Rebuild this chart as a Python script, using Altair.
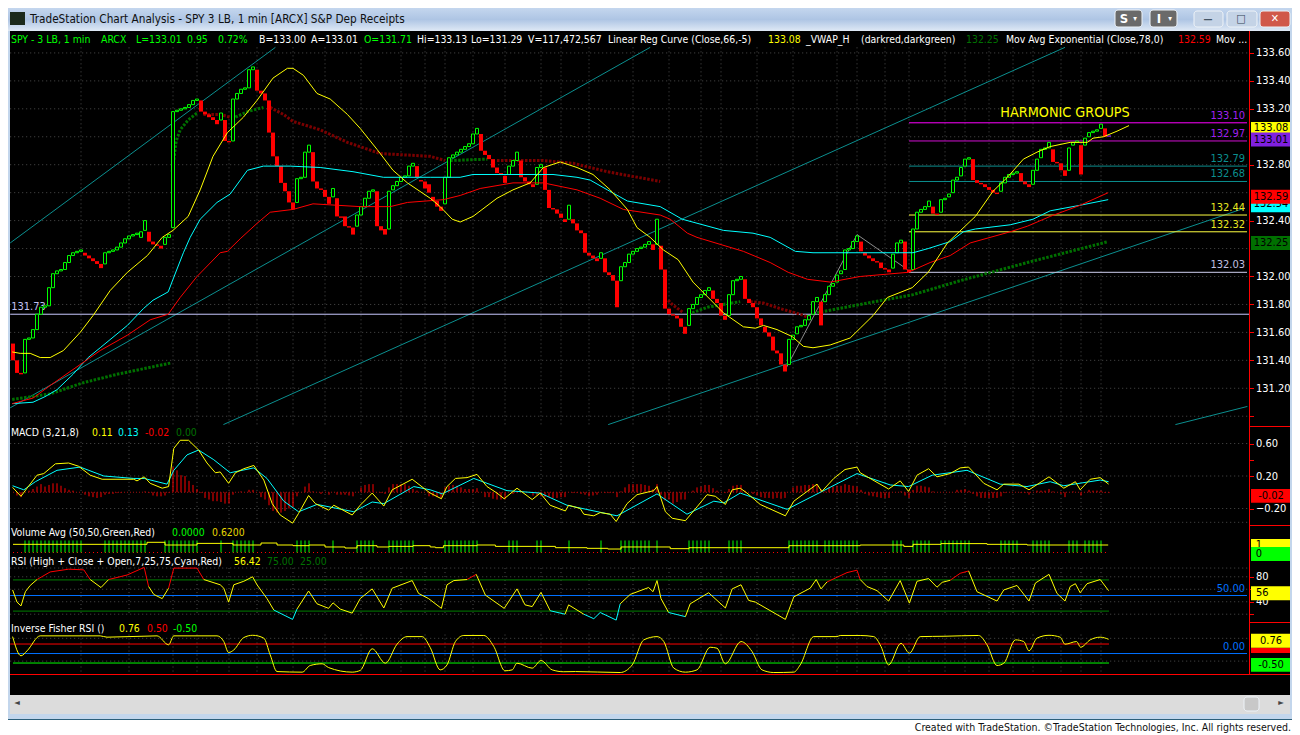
import altair as alt
import pandas as pd

FONT = "DejaVu Sans Condensed"
FS = 11
HS = 10.4

# ---------- three line break bricks (bar 0..274) ----------
brick_low = [
131.40,131.31,131.30,131.31,131.55,131.56,131.62,131.73,131.78,131.79,
131.92,132.02,132.04,132.05,132.10,132.15,132.17,132.18,132.15,132.13,
132.11,132.09,132.06,132.09,132.17,132.18,132.19,132.21,132.24,132.27,
132.29,132.30,132.28,132.33,132.25,132.23,132.22,132.20,132.23,132.28,
132.35,133.18,133.19,133.20,133.21,133.23,133.26,133.18,133.16,133.14,
133.12,133.09,133.12,132.97,132.96,132.97,133.27,133.31,133.34,133.35,
133.48,133.33,133.31,133.26,133.03,132.86,132.79,132.67,132.61,132.53,
132.48,132.53,132.70,132.71,132.89,132.68,132.63,132.62,132.57,132.52,
132.57,132.43,132.42,132.36,132.35,132.30,132.36,132.44,132.50,132.56,
132.61,132.36,132.33,132.30,132.34,132.62,132.65,132.68,132.71,132.72,
132.79,132.71,132.68,132.63,132.60,132.54,132.50,132.47,132.52,132.71,
132.85,132.87,132.89,132.91,132.93,132.95,133.02,132.90,132.87,132.84,
132.78,132.74,132.73,132.67,132.73,132.79,132.83,132.71,132.68,132.66,
132.64,132.66,132.78,132.62,132.49,132.48,132.45,132.42,132.39,132.41,
132.38,132.33,132.31,132.17,132.15,132.13,132.11,132.13,132.03,132.01,
131.97,131.78,131.97,132.07,132.10,132.16,132.18,132.20,132.21,132.23,
132.19,132.23,132.05,131.77,131.73,131.72,131.70,131.64,131.59,131.65,
131.77,131.80,131.85,131.87,131.90,131.84,131.81,131.72,131.69,131.72,
131.87,131.97,131.98,131.84,131.81,131.78,131.70,131.65,131.60,131.57,
131.47,131.45,131.37,131.32,131.37,131.55,131.59,131.64,131.65,131.69,
131.73,131.82,131.65,131.82,131.87,131.93,131.96,132.02,132.05,132.19,
132.20,132.25,132.18,132.15,132.13,132.11,132.10,132.06,132.05,132.03,
132.06,132.17,132.24,132.05,132.03,132.05,132.34,132.46,132.48,132.50,
132.45,132.44,132.46,132.55,132.57,132.60,132.69,132.72,132.79,132.84,
132.69,132.67,132.66,132.64,132.62,132.60,132.59,132.61,132.67,132.71,
132.73,132.74,132.68,132.66,132.64,132.66,132.76,132.85,132.91,132.92,
132.82,132.81,132.76,132.72,132.76,132.94,132.96,132.73,132.94,133.00,
133.03,133.04,133.06,133.00,133.00]
brick_high = [
131.52,131.40,131.31,131.55,131.56,131.62,131.73,131.78,131.79,131.92,
132.02,132.04,132.05,132.10,132.15,132.17,132.18,132.19,132.17,132.15,
132.13,132.11,132.09,132.17,132.18,132.19,132.21,132.24,132.27,132.29,
132.30,132.31,132.32,132.40,132.32,132.25,132.23,132.22,132.28,132.30,
133.18,133.19,133.20,133.21,133.23,133.26,133.27,133.26,133.18,133.16,
133.14,133.12,133.17,133.12,132.97,133.27,133.31,133.34,133.35,133.48,
133.50,133.48,133.33,133.31,133.26,133.03,132.86,132.79,132.67,132.61,
132.53,132.70,132.71,132.89,132.94,132.89,132.68,132.63,132.62,132.57,
132.63,132.56,132.43,132.43,132.36,132.35,132.44,132.50,132.56,132.61,
132.62,132.61,132.36,132.34,132.61,132.65,132.68,132.71,132.72,132.79,
132.81,132.79,132.69,132.68,132.66,132.57,132.54,132.50,132.71,132.85,
132.87,132.89,132.91,132.93,132.95,133.02,133.06,133.02,132.90,132.87,
132.84,132.78,132.74,132.72,132.79,132.83,132.89,132.83,132.71,132.68,
132.66,132.78,132.80,132.78,132.62,132.49,132.48,132.45,132.41,132.51,
132.41,132.38,132.33,132.31,132.17,132.15,132.13,132.17,132.13,132.03,
132.01,131.97,132.07,132.10,132.16,132.18,132.20,132.21,132.23,132.25,
132.23,132.41,132.22,132.05,131.77,131.73,131.72,131.70,131.64,131.77,
131.80,131.85,131.87,131.90,131.92,131.90,131.84,131.81,131.72,131.87,
131.97,131.98,132.00,131.98,131.84,131.81,131.78,131.70,131.64,131.60,
131.57,131.47,131.45,131.37,131.55,131.58,131.64,131.65,131.69,131.72,
131.82,131.85,131.82,131.87,131.93,131.95,132.01,132.04,132.19,132.20,
132.25,132.29,132.25,132.17,132.15,132.13,132.11,132.10,132.06,132.05,
132.16,132.24,132.26,132.25,132.05,132.34,132.46,132.48,132.50,132.54,
132.50,132.45,132.55,132.56,132.59,132.69,132.71,132.78,132.84,132.85,
132.84,132.69,132.67,132.66,132.64,132.62,132.60,132.67,132.71,132.73,
132.74,132.75,132.74,132.68,132.66,132.76,132.84,132.91,132.92,132.96,
132.91,132.82,132.81,132.76,132.92,132.96,132.97,132.94,132.99,133.03,
133.04,133.05,133.09,133.06,133.01]
brick_dir = (
"RRRGGGGGGG" "GGGGGGGGRR" "RRRGGGGGGG" "GGGGRRRRGG" "GGGGGGGRRR"
"RRGRRGGGGG" "GRRRRRRRRR" "RGGGGRRRRR" "GRRRRRGGGG" "GRRRGGGGGG"
"GRRRRRRRGG" "GGGGGGGRRR" "RRRRGGGRRR" "RGGRRRRRRG" "RRRRRRRGRR"
"RRGGGGGGGG" "RGRRRRRRRG" "GGGGGRRRRG" "GGGRRRRRRR" "RRRRGGGGGG"
"GGRGGGGGGG" "GGRRRRRRRR" "GGGRRGGGGG" "RRGGGGGGGG" "RRRRRRRGGG"
"GGRRRGGGGG" "RRRRGGGRGG" "GGGRP")

# ---------- price lines: (bar, price) ----------
linreg_k = [-0.2,1.8,4.3,6.8,9.3,12.6,16.8,20,24.3,28.6,33.6,37.3,40,43.8,46.8,50,53.6,57.6,61,65,68.6,70,72.6,76,79.3,83.6,86.8,91,95,98.6,104.3,106.8,109.8,111.8,115,121,125,129.3,132.6,136.8,141,145,149.3,153.6,156,159.3,162.6,166.3,170,177.6,182.6,185.6,187.6,191,194.8,197.6,200,204.3,209.3,211.8,215,218.6,224.8,228.8,233.6,240.6,245,248.6,252.6,256,259.3,264.3,268.6,270,272.6,276,279]
linreg_v = [131.46,131.45,131.45,131.42,131.42,131.47,131.60,131.72,131.90,132.03,132.15,132.28,132.33,132.43,132.62,132.86,133.03,133.14,133.26,133.42,133.49,133.49,133.44,133.31,133.27,133.16,133.06,132.91,132.76,132.67,132.56,132.50,132.41,132.39,132.43,132.56,132.62,132.67,132.78,132.82,132.78,132.73,132.62,132.48,132.35,132.28,132.19,132.12,131.96,131.74,131.64,131.63,131.65,131.62,131.57,131.50,131.49,131.51,131.56,131.63,131.72,131.85,131.92,132.03,132.24,132.43,132.61,132.71,132.84,132.89,132.93,132.96,132.96,132.99,133.00,133.04,133.08]
ema_c_k = [-0.2,5,8,11,15,18.8,21.8,28.6,32.6,35,38.8,40,42.6,44.3,46.8,51,54.3,58.6,62.6,69.3,76.8,85,92.6,104.3,111.8,115,135,141,144.3,148.6,153.6,161.8,167.3,177.6,185,189.3,195.6,200,211.8,225,228.8,234.3,237.6,240.6,249.3,255,259.3,266.8,273.8]
ema_c_v = [131.09,131.10,131.14,131.19,131.30,131.42,131.49,131.65,131.77,131.83,131.89,131.98,132.17,132.28,132.41,132.53,132.59,132.76,132.79,132.79,132.78,132.75,132.71,132.71,132.71,132.73,132.73,132.71,132.69,132.62,132.54,132.50,132.41,132.33,132.31,132.28,132.18,132.17,132.17,132.17,132.20,132.25,132.32,132.34,132.37,132.41,132.47,132.51,132.55]
ema_r_k = [-0.2,5,9.3,16.8,21.8,28.6,34.3,38.8,41.8,46,51.8,53.6,56.8,61,64.3,70,75,86.8,94.3,98.6,107.6,111.8,116.8,125,132.6,141,146.8,152.6,161.8,164.3,168.6,171,182.6,189.3,193.8,198.6,204.3,211.8,223.8,229.3,234.3,239.3,249.3,253.6,259.3,266.8,273.8]
ema_r_v = [131.09,131.13,131.22,131.37,131.47,131.58,131.69,131.73,131.85,132.00,132.17,132.18,132.27,132.38,132.46,132.48,132.52,132.50,132.50,132.53,132.55,132.58,132.63,132.67,132.67,132.62,132.56,132.48,132.44,132.41,132.31,132.28,132.18,132.10,132.03,131.98,131.96,132.00,132.03,132.10,132.15,132.24,132.32,132.36,132.43,132.51,132.60]

# VWAP runs: colour flips between rising and falling stretches
vwap_green = [
    ([-0.2,9.3,17.6,26,39.3],[131.12,131.16,131.24,131.30,131.38]),
    ([39.8,40.8,41.8,43.8,46],[132.75,132.97,133.05,133.12,133.17]),
    ([55.6,58.6,62.6],[133.14,133.18,133.21]),
    ([109.3,118.6],[132.83,132.84]),
    ([162.8,163.2],[131.91,131.88]),
    ([169.8,173.6,177.6,181.8],[131.74,131.78,131.80,131.82]),
    ([201,211.8,225,236.8,253.6,273.8],[131.74,131.80,131.87,131.97,132.10,132.25]),
]
vwap_red = [
    ([47.6,51.8,54.3],[133.16,133.16,133.14]),
    ([64.3,67.6,70,76.8,83.6,91.8,104.3,108],[133.21,133.16,133.11,133.05,132.96,132.88,132.86,132.83]),
    ([121,132.6,140,148.6,161.8],[132.83,132.83,132.81,132.75,132.68]),
    ([163.8,164.8,167.6],[131.83,131.80,131.74]),
    ([184.3,187.6,191.8,196.8,198.6],[131.82,131.81,131.77,131.73,131.71]),
]
# trend channel lines: (bar, price, bar, price)
channels = [(-0.7,132.24,65.6,133.64),(-0.7,131.06,159.3,133.64),(52.6,130.94,263,133.64),
            (148.8,130.94,308,132.49),(290.6,130.94,308.6,131.07)]
gray_k = [193,211,223.6]
gray_v = [131.33,132.30,132.05]

level_vals = [133.10,132.97,132.79,132.68,132.44,132.32,132.03]
level_line = ["#ff00ff","#d010d0","#0b8f8f","#0b8f8f","#ffff40","#ffff40","#d0d0f0"]
level_text = ["#a020f0","#a020f0","#0b8f8f","#0b8f8f","#e8e820","#e8e820","#c0c0e0"]

# ---------- MACD ----------
macd_y_k = [-0.1,2,3.5,6,7.7,10.6,13.9,16.4,19.3,22.3,30.2,31,32.8,34.3,37.3,38.9,40.2,41.8,43.9,46.4,48.5,50.6,51.8,53.9,55.6,57.7,60.2,62.7,64.8,66.8,69.9,71.4,73.9,75.6,78.9,80.2,84.8,86.8,89.8,92.7,94.8,99.8,104.3,107.1,108.5,110.6,113.5,116,118.5,121,122.8,126,129.8,131.8,134.3,138.1,138.9,141.8,142.7,145.2,146.8,149.3,150.8,153.5,156,160.2,161,163.1,164.8,168.1,171,173.5,175.6,178.1,179.8,181.8,183.5,186.8,193.1,195.2,201,202.2,205.2,208,211,211.8,218.9,221.8,223.9,226,228.9,231,234.3,236.8,238.9,242.7,246,247.7,251.5,254,259,262.7,265.6,266.8,269.3,271.8,273.9]
macd_y_v = [.06,-.05,.05,.21,.23,.35,.36,.32,.21,.16,.16,.14,.19,.11,.05,.07,.54,.64,.64,.52,.36,.24,.25,.11,.24,.29,.33,.15,-.14,-.28,-.38,-.26,-.04,-.14,-.22,-.16,-.28,-.16,-.01,-.17,.03,.16,-.01,-.08,.07,.17,.18,.22,.07,-.01,-.08,.05,-.09,-.01,-.16,-.23,-.16,-.20,-.27,-.29,-.25,-.27,-.36,-.14,-.03,.02,.07,-.24,-.32,-.35,-.18,-.03,-.05,-.15,.03,.05,-.01,-.15,-.29,-.11,.10,.01,.17,.28,.31,.24,.04,.14,.01,.21,.29,.19,.23,.30,.31,.11,.03,.10,.10,.03,.19,.05,.13,.03,.16,.18,.10]
macd_c_k = [-0.1,2.7,5.6,11,16.8,22.7,30.2,32.8,38.5,40.2,43.5,46.4,50.2,54.3,60.2,63.5,67.7,71.4,76,85.2,89.8,92.7,100.2,104.3,107.3,115.2,123.5,131.8,138.5,151,161,168.5,175.2,177.7,181.8,193.5,211,219.3,223.9,229.8,238.5,246.8,253.5,259.3,262.7,271.8,273.9]
macd_c_v = [.08,.03,.13,.27,.31,.20,.17,.17,.10,.27,.46,.52,.40,.24,.30,.17,-.11,-.24,-.15,-.24,-.12,-.14,.07,.03,-.02,.17,.02,-.01,-.16,-.29,-.02,-.27,-.11,-.13,-.01,-.21,.23,.09,.07,.21,.27,.10,.07,.13,.08,.15,.13]
macd_hist = [
0,-4,-6,0,2,4,7,10,7,9, 11,11,8,5,3,2,0,0,-3,-5, -6,-7,-6,-3,-2,-2,-1,-1,0,0,
0,0,0,1,-1,-4,-5,-5,-4,-1, 31,27,21,20,14,9,4,-1,-7,-9, -11,-11,-12,-14,-14,-3,0,1,0,3,
3,0,-6,-9,-16,-23,-25,-25,-23,-20, -18,-5,0,7,11,1,0,-2,0,-3, 0,-3,-3,-3,-4,-5,0,6,9,10,
10,0,-1,-2,6,10,10,10,10,8, 4,2,0,0,-5,-5,-6,-7,6,8, 9,8,6,4,4,4,5,0,-6,-6,
-8,-9,-9,-9,0,-2,-1,0,0,0, -4,-4,-5,-6,-6,-7,-7,-6,-6,0, -1,-1,-2,-3,-5,-4,-3,0,-1,-1,
-1,-6,1,6,10,10,10,10,9,8, 4,10,-3,-10,-9,-14,-12,-9,-9,0, 2,6,7,9,9,5,2,0,-1,4,
8,9,9,2,0,-2,-4,-6,-7,-7, -8,-7,-8,-7,0,6,8,8,9,9, 10,10,4,1,6,7,8,8,10,9,
8,7,3,-2,-4,-5,-6,-7,-7,-7, 0,0,1,-4,-7,3,8,8,7,6, 1,0,0,0,0,0,3,3,4,2,
-2,-5,-7,-7,-7,-7,-7,-5,-1,0, 0,0,-1,-1,-3,0,2,2,2,4, 1,0,-2,-6,0,1,0,-4,0,3,
2,2,2,-1,-1]

# ---------- Volume ----------
vol_runs = [(3,17),(23,33),(38,46),(52,52),(55,60),(71,74),(80,80),(86,90),(94,100),(108,116),(124,126),(131,132),(139,139),(147,147),(152,159),(161,161),(169,174),(179,182),(194,201),(203,211),(220,222),(225,229),(232,239),(247,251),(255,259),(264,266),(268,272)]
vol_avg_k = [0,33.5,38,46,55,62,66,70,74,78,83,86,91,94,100,104.3,105.6,107.6,116,120.6,135.6,143.5,148.7,152,164.3,169,194,211.8,222.7,225,232,243.5,253.5,273.8]
vol_avg_v = [.68,.85,.625,.76,.625,.79,.625,.57,.625,.46,.375,.57,.46,.51,.57,.46,.40,.57,.625,.51,.40,.347,.29,.46,.32,.40,.57,.625,.51,.68,.74,.68,.625,.625]

# ---------- RSI ----------
rsi_k = [-0.1,1,2,3.1,4.3,6,9.3,13.9,17.7,19.3,22,23.9,28.5,32.8,33.9,35.2,37.3,38.9,40.2,46,47.7,51.8,52.7,53.9,55.2,57.7,59.9,61,63.5,65.2,69.9,71,73.9,76,78.9,80,81.8,84.8,86.8,89.8,92.7,94.8,99.8,101.4,103.9,107.1,108.5,110.2,113.5,115.8,118.1,122.8,126,128,129.8,132,134.3,138,138.9,142.7,145.2,146.8,150.8,151.8,154.3,158.9,160,161,162,163.9,168.1,169.3,173.9,178.1,179.8,182,183.9,185.6,193.1,195.2,199.3,200.8,202,203.5,208.5,211,211.8,213.5,216,218.9,221.8,224.1,226,228.9,231,232.3,234.3,236.8,238.9,241,246,247.7,251,254,255.6,259,261,263,264.3,265.6,266.8,268.5,271.8,273.9]
rsi_v = [58.9,39.4,33.3,56.1,66.1,75.6,87.8,92.2,91.1,75.6,62.8,75.6,82.8,95,64.4,51.7,45,61.7,93.9,93.9,75.6,67.2,61.7,39.4,67.2,72.8,80,67.2,45,26.7,11.7,28.3,57.2,36.7,29.4,38.3,28.3,21.7,45,60.6,30,61.7,73.9,53.3,45,29.4,67.2,73.9,75.6,83.9,50.6,29.4,60.6,35,32.2,55,25.6,20,35,20,12.8,22.8,10.6,36.7,51.7,62.8,56.1,73.9,45,22.8,16.1,36.7,54.4,30,60.6,67.2,42.2,39.4,11.7,47.8,61.7,75.6,60.6,71.7,86.7,90.6,75.6,64.4,57.8,41.1,73.9,37.8,72.8,77.2,63.3,71.1,74.4,85.6,89.4,56.1,41.1,58.9,66.1,41.1,70,83.9,53.3,41.1,64.4,68.9,54.4,68.9,75.6,57.8]

# ---------- Inverse Fisher RSI ----------
fisher_k = [-0.1,2,3.5,6.8,21.8,23.5,36,38.9,40.2,51,52.7,53.9,55.2,57.7,59.9,62.7,64.3,66,72.3,74.3,77.3,78.9,84.8,86.8,89.8,93.1,96,98.5,102.3,104.3,106.8,108.5,110.6,112.7,117.7,120.2,123,124.8,126,129.8,132,134.8,137.7,140.6,151.8,154.8,157.7,161,162.7,165.2,168.1,171,174.3,176,178.1,182,184.75,187.25,190.2,195.2,196.8,200.2,206,206.8,211.8,215.2,217,218.9,222,224.1,226.8,233,241.4,243.5,246,247.7,250.6,252.7,254,256,259,261.8,263,265.9,266.9,269.3,271.8,273.9]
fisher_v = [.89,-.12,.14,.93,.93,.86,.93,.46,.93,.93,.63,.05,.19,.84,.96,.81,-.07,-.95,-.98,-.63,-.54,-.74,-.98,-.89,.25,-.51,.49,.89,.89,.32,-.86,-.60,.63,.95,.95,.37,-.91,-.86,-.51,-.77,-.37,-.86,-.96,-.95,-1.0,-.60,.72,.89,.63,-.77,-.98,-.86,.33,.28,-.54,.63,.11,-.86,-1.0,-.98,-.60,.89,.89,.95,.95,.89,.37,-.60,.54,.02,.89,.91,.95,.46,-.63,-.51,.72,.63,.14,.81,.96,.86,.49,.63,.33,.72,.86,.75]

# ---------- axes ----------
grid_k = [17,29,40,46,54,61,70,78,87,97,103,108,115,123,132,137,144,155,164,172,177,186,195,206,211,218,224,233,238,244,250,255,262,267,272]
time_labels = {40:"6/7",87:"9:00",132:"13:15",186:"7:30",224:"10:00",262:"13:00"}
price_ticks = [131.0,131.2,131.4,131.6,131.8,132.0,132.4,132.8,133.2,133.4,133.6]
macd_ticks = [0.6,0.4,0.2,-0.2]
rsi_ticks = [80,60,40,20]

# ---------- scales: plot area is one canvas, panels stacked ----------
W, H = 1284, 727
xs = alt.Scale(domain=[-1.25, 319.75], range=[0, W], nice=False, zero=False)
def yscale(lo, hi, y_lo, y_hi):
    return alt.Scale(domain=[lo, hi], range=[y_lo, y_hi], nice=False, zero=False)
PRICE = yscale(130.925, 133.757, 418.7, 23)
MACD = yscale(-0.403, 0.807, 517, 418.7)
VOL = yscale(-1.04, 2.29, 557, 517)
RSI = yscale(7.2, 162.7, 614.2, 517.2)
FISH = yscale(-1.12, 1.67, 666.8, 613.8)

X = alt.X("k:Q", scale=xs, axis=None)
layers = []

def line(ks, vs, sc, color, width=1.0, **mk):
    df = pd.DataFrame({"k": ks, "v": vs})
    layers.append(alt.Chart(df).mark_line(color=color, strokeWidth=width, **mk).encode(
        x=X, y=alt.Y("v:Q", scale=sc, axis=None)))

def hline(v, sc, color, k0=-0.7, k1=309, width=1.0, **mk):
    df = pd.DataFrame({"k": [k0, k1], "v": [v, v]})
    layers.append(alt.Chart(df).mark_line(color=color, strokeWidth=width, **mk).encode(
        x=X, y=alt.Y("v:Q", scale=sc, axis=None)))

def grid(levels, lo, hi, sc):
    d = pd.DataFrame({"k": [-0.7]*len(levels), "k2": [309]*len(levels), "v": levels})
    layers.append(alt.Chart(d).mark_rule(color="#4c4c4c", strokeDash=[1, 3]).encode(
        x=X, x2="k2:Q", y=alt.Y("v:Q", scale=sc, axis=None)))
    d = pd.DataFrame({"k": grid_k, "lo": lo, "hi": hi})
    layers.append(alt.Chart(d).mark_rule(color="#4c4c4c", strokeDash=[1, 3]).encode(
        x=X, y=alt.Y("hi:Q", scale=sc, axis=None), y2="lo:Q"))

def yaxis(ticks, sc, expr):
    d = pd.DataFrame({"k": [0], "v": [ticks[0]]})
    layers.append(alt.Chart(d).mark_point(opacity=0).encode(
        x=X,
        y=alt.Y("v:Q", scale=sc, axis=alt.Axis(
            orient="right", offset=-(W - 1241.5), values=ticks, labelExpr=expr, domain=False,
            grid=False, title=None, tickColor="#ff0000", tickSize=4, labelPadding=2,
            labelColor="#ffffff", labelFont=FONT, labelFontSize=FS, labelOverlap=False,
            labelFlush=False, labelBound=False))))

def tag(v_hi, v_lo, sc, fill):
    d = pd.DataFrame({"k": [309.5], "k2": [319.5], "a": [v_hi], "b": [v_lo]})
    layers.append(alt.Chart(d).mark_rect(fill=fill).encode(
        x=X, x2="k2:Q", y=alt.Y("a:Q", scale=sc, axis=None), y2="b:Q"))

def tagtext(v, txt, sc, color="#000000", k=314.5):
    d = pd.DataFrame({"k": [k], "v": [v], "t": [txt]})
    layers.append(alt.Chart(d).mark_text(color=color, font=FONT, fontSize=FS, align="center", baseline="middle").encode(
        x=X, y=alt.Y("v:Q", scale=sc, axis=None), text="t:N"))

# x axis carried by an invisible layer
d0 = pd.DataFrame({"k": [0], "v": [0]})
time_expr = "{" + ",".join(f"'{k}':'{v}'" for k, v in time_labels.items()) + "}[''+datum.value]||''"
layers.append(alt.Chart(d0).mark_point(opacity=0).encode(
    x=alt.X("k:Q", scale=xs, axis=alt.Axis(
        orient="bottom", offset=-(H - 666.5), values=grid_k, labelExpr=time_expr, domain=False, grid=False,
        title=None, tickColor="#ff0000", tickSize=3, labelPadding=4, labelColor="#ffffff",
        labelFont=FONT, labelFontSize=FS, labelOverlap=False, labelFlush=False)),
    y=alt.Y("v:Q", scale=FISH, axis=None)))

# grids
grid([133.6,133.4,133.2,133.0,132.8,132.6,132.4,132.2,132.0,131.8,131.6,131.4,131.2,131.0], 130.94, 133.64, PRICE)
grid([0.6,0.2,-0.2,-0.37], -0.38, 0.62, MACD)
grid([94,80,60,40,20], 18, 94, RSI)
grid([0.8,-0.4], -1.0, 1.0, FISH)

# axes
yaxis(price_ticks, PRICE, "datum.value<131.1 ? '' : format(datum.value,'.2f')")
yaxis(macd_ticks, MACD, "datum.value==0.4 ? '' : format(datum.value,'.2f')")
yaxis(rsi_ticks, RSI, "datum.value==80||datum.value==40 ? ''+datum.value : ''")

# channels
for a, b, c, e in channels:
    line([a, c], [b, e], PRICE, "#0b8f8f", 1.0)
line(gray_k, gray_v, PRICE, "#8c8c8c", 1.0)

# levels
for v, c in zip(level_vals, level_line):
    hline(v, PRICE, c, k0=224, k1=308.5)
hline(131.73, PRICE, "#c8c8ff")
for v, c, t in zip(level_vals, level_line, level_text):
    d = pd.DataFrame({"k": [308], "v": [v], "t": [f"{v:.2f}"]})
    layers.append(alt.Chart(d).mark_text(color=t, font=FONT, fontSize=FS, align="right", baseline="middle", dy=-7).encode(
        x=X, y=alt.Y("v:Q", scale=PRICE, axis=None), text="t:N"))
d = pd.DataFrame({"k": [-0.7], "v": [131.73], "t": ["131.73"]})
layers.append(alt.Chart(d).mark_text(color="#c0c0f0", font=FONT, fontSize=FS, align="left", baseline="middle", dy=-7, dx=1).encode(
    x=X, y=alt.Y("v:Q", scale=PRICE, axis=None), text="t:N"))
d = pd.DataFrame({"k": [263], "v": [133.17], "t": ["HARMONIC GROUPS"]})
layers.append(alt.Chart(d).mark_text(color="#ffff00", font=FONT, fontSize=14.3, align="center", baseline="middle").encode(
    x=X, y=alt.Y("v:Q", scale=PRICE, axis=None), text="t:N"))

# VWAP
for ks, vs in vwap_green:
    line(ks, vs, PRICE, "#007000", 3, strokeDash=[2.5, 1.5])
for ks, vs in vwap_red:
    line(ks, vs, PRICE, "#7a0000", 3, strokeDash=[2.5, 1.5])

# bricks
bars = pd.DataFrame({"n": range(len(brick_low)), "lo": brick_low, "hi": brick_high, "d": list(brick_dir)})
up = bars[bars.d == "G"].assign(k=lambda t: t.n - 0.375, k2=lambda t: t.n + 0.375)
dn = bars[bars.d == "R"].assign(k=lambda t: t.n - 0.5, k2=lambda t: t.n + 0.5)
pp = bars[bars.d == "P"].assign(k=lambda t: t.n - 0.5, k2=lambda t: t.n + 0.5)
layers.append(alt.Chart(dn).mark_rect(fill="#ff0000").encode(
    x=X, x2="k2:Q", y=alt.Y("hi:Q", scale=PRICE, axis=None), y2="lo:Q"))
layers.append(alt.Chart(up).mark_rect(fill="#000000", stroke="#00ff00", strokeWidth=1).encode(
    x=X, x2="k2:Q", y=alt.Y("hi:Q", scale=PRICE, axis=None), y2="lo:Q"))
layers.append(alt.Chart(pp).mark_rect(fill="#8020e0").encode(
    x=X, x2="k2:Q", y=alt.Y("hi:Q", scale=PRICE, axis=None), y2="lo:Q"))

# moving averages
line(ema_c_k, ema_c_v, PRICE, "#00ffff")
line(ema_r_k, ema_r_v, PRICE, "#ff0000")
line(linreg_k, linreg_v, PRICE, "#ffff00")

# MACD
h = pd.DataFrame({"k": range(len(macd_hist)), "v": [x / 100 for x in macd_hist], "z": [0] * len(macd_hist)})
layers.append(alt.Chart(h[h.v != 0]).mark_rule(color="#ff0000", strokeWidth=1).encode(
    x=X, y=alt.Y("v:Q", scale=MACD, axis=None), y2="z:Q"))
hline(0, MACD, "#a01010", k0=0, k1=274, strokeDash=[1, 2])
line(macd_c_k, macd_c_v, MACD, "#00ffff")
line(macd_y_k, macd_y_v, MACD, "#ffff00")

# Volume
hline(0, VOL, "#ff0000", k0=0, k1=274, strokeDash=[1, 3])
stick_k = [k for a, b in vol_runs for k in range(a, b + 1)]
s = pd.DataFrame({"k": stick_k, "a": [1.0] * len(stick_k), "b": [0.0] * len(stick_k)})
layers.append(alt.Chart(s).mark_rule(color="#00ff00", strokeWidth=1).encode(
    x=X, y=alt.Y("a:Q", scale=VOL, axis=None), y2="b:Q"))
line(vol_avg_k, vol_avg_v, VOL, "#ffff00", interpolate="step-after")

# RSI
hline(75, RSI, "#008000", k0=0, k1=274)
hline(25, RSI, "#008000", k0=0, k1=274)
hline(50, RSI, "#0070ff", k1=308.5)
rows = []
for i in range(len(rsi_k) - 1):
    avg = (rsi_v[i] + rsi_v[i + 1]) / 2
    col = "#ff0000" if avg > 77 else ("#00ffff" if avg < 24 else "#ffff00")
    rows += [dict(k=rsi_k[i], v=rsi_v[i], s=i, c=col), dict(k=rsi_k[i + 1], v=rsi_v[i + 1], s=i, c=col)]
layers.append(alt.Chart(pd.DataFrame(rows)).mark_line(strokeWidth=1).encode(
    x=X, y=alt.Y("v:Q", scale=RSI, axis=None), detail="s:N", color=alt.Color("c:N", scale=None)))
d = pd.DataFrame({"k": [308], "v": [50], "t": ["50.00"]})
layers.append(alt.Chart(d).mark_text(color="#0070ff", font=FONT, fontSize=FS, align="right", baseline="middle", dy=-7).encode(
    x=X, y=alt.Y("v:Q", scale=RSI, axis=None), text="t:N"))

# Fisher
hline(0.5, FISH, "#ff0000", k1=274)
hline(0, FISH, "#0070ff", k1=308.5)
hline(-0.5, FISH, "#00ff00", k0=0, k1=274)
line(fisher_k, fisher_v, FISH, "#ffff00", interpolate="monotone")
d = pd.DataFrame({"k": [308], "v": [0], "t": ["0.00"]})
layers.append(alt.Chart(d).mark_text(color="#0070ff", font=FONT, fontSize=FS, align="right", baseline="middle", dy=-7).encode(
    x=X, y=alt.Y("v:Q", scale=FISH, axis=None), text="t:N"))

# value tags at the right edge
tag(133.105, 133.0, PRICE, "#ffff00"); tagtext(133.06, "133.08", PRICE)
tag(133.03, 132.93, PRICE, "#8020e0"); tagtext(132.98, "133.01", PRICE)
tag(132.56, 132.46, PRICE, "#00ffff"); tagtext(132.52, "132.54", PRICE)
tag(132.62, 132.52, PRICE, "#ff0000"); tagtext(132.57, "132.59", PRICE)
tag(132.29, 132.19, PRICE, "#007000"); tagtext(132.24, "132.25", PRICE)
tag(0.04, -0.13, MACD, "#ff0000"); tagtext(-0.045, "-0.02", MACD)
tag(1.125, 0.125, VOL, "#ffff00"); tagtext(0.625, "1", VOL, k=311.5)
tag(0.46, -0.71, VOL, "#00ff00"); tagtext(-0.125, "0", VOL, k=311.5)
tag(64.9, 42.5, RSI, "#ffff00"); tagtext(53.7, "56", RSI, k=312.3)
tag(0.30, 0.03, FISH, "#ff0000")
tag(1.04, 0.30, FISH, "#ffff00"); tagtext(0.67, "0.76", FISH)
tag(-0.24, -0.96, FISH, "#00ff00"); tagtext(-0.6, "-0.50", FISH)

# ---------- window frame (page coordinates of the reference less the 8px margin) ----------
def frame(rows, **mk):
    df = pd.DataFrame([dict(x=a - 8, x2=b - 8, y=c - 8, y2=e - 8, f=f) for a, c, b, e, f in rows])
    return alt.Chart(df).mark_rect(**mk).encode(
        x=alt.X("x:Q", scale=None, axis=None), x2="x2:Q",
        y=alt.Y("y:Q", scale=None, axis=None), y2="y2:Q",
        color=alt.Color("f:N", scale=None))

layers.append(alt.Chart(pd.DataFrame({"a": [0]})).mark_rect(
    color=alt.Gradient(gradient="linear", x1=0, y1=0, x2=0, y2=1,
                       stops=[alt.GradientStop(offset=0, color="#c4d6ee"),
                              alt.GradientStop(offset=0.5, color="#aec5e4"),
                              alt.GradientStop(offset=1, color="#dfe9f5")])).encode(
    x=alt.value(0), x2=alt.value(W), y=alt.value(0), y2=alt.value(23)))
layers.append(frame([
    (8, 31, 10, 714, "#c3d6ec"),
    (1290, 8, 1292, 720, "#c3d6ec"),
    (10, 695, 1290, 714, "#dcdcdc"),
    (8, 714, 1292, 719, "#c3d6ec"),
    (8, 719, 1292, 720, "#2b5f7a"),
    (8, 720, 1292, 735, "#ffffff"),
    (1249, 31, 1250, 675, "#ff0000"),
    (1250, 426, 1290, 427, "#ff0000"),
    (1250, 525, 1290, 526, "#ff0000"),
    (1250, 622, 1290, 623, "#ff0000"),
    (10, 674, 1290, 675, "#ff0000"),
    (10, 12, 25, 25, "#1c2a1c"),
]))
layers.append(frame([
    (1115, 10, 1142, 27, "#6a6a6a"),
    (1150, 10, 1177, 27, "#6a6a6a"),
    (1194, 11, 1223, 27, "#c4d3e6"),
    (1227, 11, 1257, 27, "#c4d3e6"),
    (1260, 11, 1290, 27, "#d0584a"),
    (1244, 697, 1259, 711, "#c8c8c8"),
], cornerRadius=3, stroke="#eef3f8", strokeWidth=1))

texts = [
    # x, y, text, colour, size, weight, align
    (30, 19, "TradeStation Chart Analysis - SPY 3 LB, 1 min [ARCX] S&P Dep Receipts", "#101010", 11.7, "normal", "left"),
    (1124, 19, "S", "#ffffff", 13, "bold", "center"), (1135, 19, "▾", "#ffffff", 8, "normal", "center"),
    (1159, 19, "I", "#ffffff", 13, "bold", "center"), (1170, 19, "▾", "#ffffff", 8, "normal", "center"),
    (1208, 20, "—", "#445566", 10, "bold", "center"), (1241, 19, "□", "#334455", 11, "bold", "center"),
    (1275, 19, "✕", "#ffffff", 11, "bold", "center"),
    (17, 703, "◄", "#444444", 8, "normal", "center"), (1281, 703, "►", "#444444", 8, "normal", "center"),
    (1291, 728, "Created with TradeStation. ©TradeStation Technologies, Inc. All rights reserved.", "#101010", 10.5, "normal", "right"),
]
G, WH, Y, C, RD, DG = "#00ff00", "#ffffff", "#ffff00", "#00ffff", "#ff0000", "#007000"
header = [
    (11, 40, "SPY - 3 LB, 1 min", G), (101, 40, "ARCX", G), (136, 40, "L=133.01", G), (187, 40, "0.95", G), (218, 40, "0.72%", G),
    (259, 40, "B=133.00", WH), (311, 40, "A=133.01", WH), (364, 40, "O=131.71", G), (417, 40, "Hi=133.13", WH), (471, 40, "Lo=131.29", WH),
    (528, 40, "V=117,472,567", WH), (608, 40, "Linear Reg Curve (Close,66,-5)", WH), (768, 40, "133.08", Y),
    (806, 40, "_VWAP_H", WH), (861, 40, "(darkred,darkgreen)", WH), (966, 40, "132.25", DG),
    (1006, 40, "Mov Avg Exponential (Close,78,0)", WH), (1178, 40, "132.59", RD), (1216, 40, "Mov ...", WH),
    (11, 433, "MACD (3,21,8)", WH), (92, 433, "0.11", Y), (118, 433, "0.13", C), (145, 433, "-0.02", RD), (176, 433, "0.00", DG),
    (11, 533, "Volume Avg (50,50,Green,Red)", WH), (172, 533, "0.0000", G), (212, 533, "0.6200", "#e8d800"),
    (11, 562, "RSI (High + Close + Open,7,25,75,Cyan,Red)", WH), (234, 562, "56.42", Y), (267, 562, "75.00", DG), (300, 562, "25.00", DG),
    (11, 629, "Inverse Fisher RSI ()", WH), (119, 629, "0.76", Y), (147, 629, "0.50", RD), (173, 629, "-0.50", G),
]
t = pd.DataFrame([dict(x=a - 8, y=b - 8, t=c, c=d, s=e, w=f, al=g) for a, b, c, d, e, f, g in texts])
for (s_, w_, al_), part in t.groupby(["s", "w", "al"]):
    layers.append(alt.Chart(part).mark_text(font=FONT, fontSize=float(s_), fontWeight=w_, align=al_, baseline="middle").encode(
        x=alt.X("x:Q", scale=None, axis=None), y=alt.Y("y:Q", scale=None, axis=None),
        text="t:N", color=alt.Color("c:N", scale=None)))
hd = pd.DataFrame([dict(x=a - 8, y=b - 8, t=c, c=d) for a, b, c, d in header])
layers.append(alt.Chart(hd).mark_text(font=FONT, fontSize=HS, align="left", baseline="middle").encode(
    x=alt.X("x:Q", scale=None, axis=None), y=alt.Y("y:Q", scale=None, axis=None),
    text="t:N", color=alt.Color("c:N", scale=None)))

chart = alt.layer(*layers).resolve_scale(y="independent", color="independent").resolve_axis(y="independent").properties(
    width=W, height=H, padding=0, autosize=alt.AutoSizeParams(type="none")
).configure_view(strokeWidth=0).configure(background="#000000")

chart.save("out.html", embed_options={"renderer": "svg", "actions": False})
